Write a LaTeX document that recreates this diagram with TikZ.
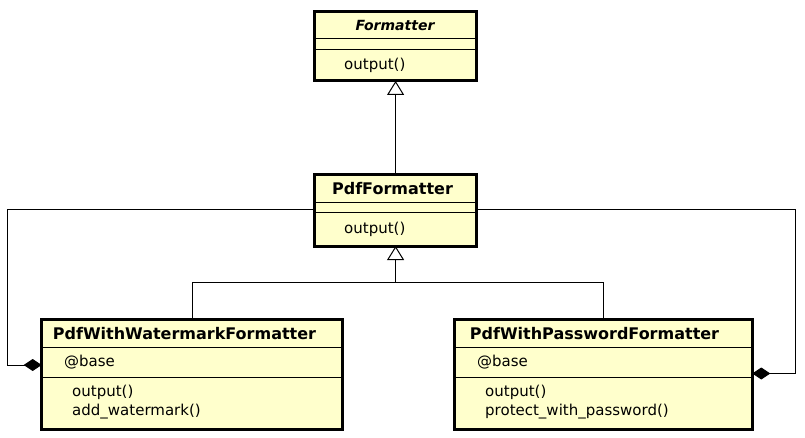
\documentclass[tikz,border=0pt]{standalone}
\usepackage{fontspec}
\setmainfont{DejaVu Sans}
\usetikzlibrary{arrows.meta}
\definecolor{boxfill}{HTML}{FFFFCC}
\tikzset{
  umlbox/.style={draw=black, line width=3pt, fill=boxfill, inner sep=0pt, outer sep=0pt, rectangle},
  sepline/.style={line width=0.9pt},
  ttl/.style={font=\fontsize{16}{19}\selectfont\bfseries, inner sep=0pt},
  mem/.style={font=\fontsize{15}{19}\selectfont, inner sep=0pt, anchor=west, align=left},
  conn/.style={line width=1pt, black},
  inh/.style={conn, {Triangle[open, length=14pt, width=17pt, line width=1pt]}-},
  compo/.style={conn, {Diamond[length=18pt, width=12pt]}-},
}
\begin{document}
\begin{tikzpicture}[x=1pt, y=-1pt]
\useasboundingbox[fill=white] (0,0) rectangle (805,438);
% boxes
\node[umlbox, minimum width=162pt, minimum height=69.3pt] (fmt) at (395.6,46.3) {};
\node[umlbox, minimum width=162pt, minimum height=71.7pt] (pdf) at (395.6,210.2) {};
\node[umlbox, minimum width=300.6pt, minimum height=110pt] (wm) at (192,374) {};
\node[umlbox, minimum width=298pt, minimum height=110pt] (pw) at (603.3,374) {};
% separators
\coordinate (f1) at (0,38.3); \coordinate (f2) at (0,49.3);
\draw[sepline] (fmt.west |- f1) -- (fmt.east |- f1);
\draw[sepline] (fmt.west |- f2) -- (fmt.east |- f2);
\coordinate (p1) at (0,202.7); \coordinate (p2) at (0,212.7);
\draw[sepline] (pdf.west |- p1) -- (pdf.east |- p1);
\draw[sepline] (pdf.west |- p2) -- (pdf.east |- p2);
\coordinate (w1) at (0,347.3); \coordinate (w2) at (0,377.3);
\draw[sepline] (wm.west |- w1) -- (wm.east |- w1);
\draw[sepline] (wm.west |- w2) -- (wm.east |- w2);
\draw[sepline] (pw.west |- w1) -- (pw.east |- w1);
\draw[sepline] (pw.west |- w2) -- (pw.east |- w2);
% texts
\node[ttl, font=\fontsize{14}{19}\selectfont\bfseries\itshape] (fmtT) at (395,25) {Formatter};
\node[mem] (fmtM) at (344,65.5) {output()};
\node[ttl] (pdfT) at (392.5,189) {PdfFormatter};
\node[mem] (pdfM) at (344,229.5) {output()};
\node[ttl] (wmT) at (184.5,333.5) {PdfWithWatermarkFormatter};
\node[mem] (wmA) at (64,362.5) {@base};
\node[mem] (wmM) at (72,402.5) {output()\\add\_watermark()};
\node[ttl] (pwT) at (594.5,333.5) {PdfWithPasswordFormatter};
\node[mem] (pwA) at (477,362.5) {@base};
\node[mem] (pwM) at (485,402.5) {output()\\protect\_with\_password()};
% inheritance
\draw[inh] (fmt.south) -- (pdf.north);
\coordinate (bus) at (395.6,282.3);
\draw[inh] (pdf.south) -- (bus);
\draw[conn] (wm.north) |- (bus);
\draw[conn] (pw.north) |- (bus);
% compositions
\coordinate (lb1) at (7.5,209.3); \coordinate (lb2) at (7.5,365);
\draw[compo] (wm.west |- lb2) -- (lb2) -- (lb1) -- (pdf.west |- lb1);
\coordinate (rb1) at (795,209.3); \coordinate (rb2) at (795,373.5);
\draw[compo] (pw.east |- rb2) -- (rb2) -- (rb1) -- (pdf.east |- rb1);
\end{tikzpicture}
\end{document}
